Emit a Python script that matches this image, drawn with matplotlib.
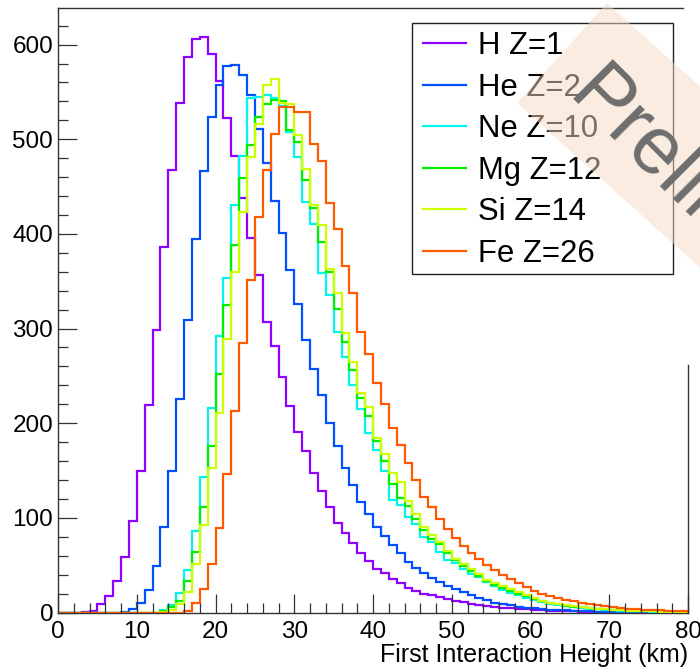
import numpy as np
import matplotlib
matplotlib.use('Agg')
import matplotlib.pyplot as plt
from matplotlib.patches import Polygon, Rectangle

plt.rcParams['font.family'] = 'Liberation Sans'

# bin edges in km (1 km bins from 0 to 80)
bin_edges = np.arange(0, 81, 1)

h_counts = [0, 0, 0, 1, 1.5, 9, 17.5, 33, 59, 97,
            150, 219, 299, 386, 468, 538, 587, 606, 608, 590,
            562, 523, 482, 438, 396, 357, 307, 282, 249, 218,
            191, 171, 147, 128, 112, 94.5, 83.5, 73, 63, 54,
            46, 41.5, 35.5, 31, 25.5, 22.5, 20, 18, 16, 14,
            12.5, 11, 9.5, 8.3, 7, 6.2, 5.2, 4.4, 3.7, 3.2,
            2.6, 2.2, 1.9, 1.6, 1.3, 1.1, 0.9, 0.8, 0.6, 0.5,
            0.4, 0.3, 0.3, 0.2, 0.2, 0.1, 0.1, 0.1, 0.1, 0]
he_counts = [0, 0, 0, 0, 0, 0, 0, 0, 1, 3.5,
             10, 24, 49, 90, 149, 226, 309, 395, 466, 524,
             557, 577, 579, 568, 547, 511, 475, 435, 401, 362,
             326, 288, 257, 230, 200, 176, 153, 135, 117, 104.5,
             90.5, 81, 71, 62.5, 53.7, 46.5, 41.5, 36.5, 32, 28,
             25, 21.5, 18.6, 15.5, 13, 10.5, 9, 7.5, 6.2, 5.2,
             4.4, 3.7, 3.1, 2.6, 2.2, 1.8, 1.5, 1.2, 1, 0.8,
             0.7, 0.6, 0.5, 0.4, 0.3, 0.3, 0.2, 0.2, 0.1, 0.1]
ne_counts = [0, 0, 0, 0, 0, 0, 0, 0, 0, 0,
             0, 0, 0, 2.8, 7.7, 21, 45, 86, 143.5, 216,
             292, 353, 431, 482, 544, 545, 547, 544, 535, 508,
             481, 434, 410, 359, 335, 296.5, 270, 240, 215, 190,
             172, 149, 119, 114, 101, 93, 80, 74, 64, 56,
             52, 46, 41, 37, 32, 28, 24, 21, 18, 15,
             13, 11, 9.2, 7.8, 6.6, 5.6, 4.7, 4, 3.3, 2.8,
             2.3, 1.9, 1.6, 1.3, 1.1, 0.9, 0.7, 0.6, 0.5, 0.4]
mg_counts = [0, 0, 0, 0, 0, 0, 0, 0, 0, 0,
             0, 0, 0, 1.8, 5.3, 12, 33, 64, 111, 176,
             252, 325, 388, 459, 494, 524, 537, 541, 540, 510,
             497, 457, 427, 391, 360, 321, 286, 256, 227, 208,
             181, 160, 136, 121, 113, 99, 87.5, 78, 72, 63,
             56, 49, 43.5, 39, 33.5, 29.5, 26, 22.5, 20, 17,
             14.5, 12, 10, 8.5, 7.3, 6.3, 5.3, 4.5, 3.8, 3.2,
             2.7, 2.2, 1.9, 1.6, 1.3, 1.1, 0.9, 0.7, 0.6, 0.5]
si_counts = [0, 0, 0, 0, 0, 0, 0, 0, 0, 0,
             0, 0, 0, 1, 2.8, 8.5, 22, 51.5, 92.5, 153,
             211, 289, 360, 423, 481, 516.5, 557, 564, 538, 537.5,
             505, 469, 431, 409, 363, 338, 295, 265, 232, 217,
             184, 168, 147, 138, 117.5, 104.5, 90, 82, 74, 65,
             57, 51, 45.5, 41, 34.5, 31, 28, 24.5, 22, 18,
             15, 12.5, 10.4, 9, 7.9, 6.9, 5.7, 4.8, 4.1, 3.3,
             2.7, 2.3, 2, 1.7, 1.4, 1.1, 0.9, 0.7, 0.6, 0.5]
fe_counts = [0, 0, 0, 0, 0, 0, 0, 0, 0, 0,
             0, 0, 0, 0, 0, 0, 2, 10, 25, 51,
             89, 146, 213, 285, 351, 417.5, 468, 506, 534, 534,
             528.5, 528.5, 495, 477, 433, 405, 366, 338, 296, 273.5,
             243, 220.5, 194.5, 177, 158, 140, 122.5, 111, 98.5, 88,
             79, 70.5, 62.5, 56.5, 50, 45, 39.5, 35, 31, 27,
             23, 20, 17, 15, 13.5, 12, 10.5, 9, 7.5, 6.5,
             5.5, 4.8, 4, 3.5, 3, 2.7, 2.3, 2, 1.7, 1.5]

labels = ['H Z=1', 'He Z=2', 'Ne Z=10', 'Mg Z=12', 'Si Z=14', 'Fe Z=26']
colors = ['#8f00ff', '#0050ff', '#00f5ec', '#00ee00', '#ccff00', '#ff5a00']
series = [h_counts, he_counts, ne_counts, mg_counts, si_counts, fe_counts]

fig = plt.figure(figsize=(7, 6.68), dpi=100)
ax = fig.add_axes([58 / 700, 55.5 / 668, 630 / 700, 604.2 / 668])

for vals, lab, col in zip(series, labels, colors):
    ax.stairs(vals, bin_edges, color=col, lw=1.6, label=lab)

ax.set_xlim(0, 80)
ax.set_ylim(0, 638.4)
ax.set_xticks(np.arange(0, 81, 10))
ax.set_xticks(np.arange(0, 81, 2), minor=True)
ax.set_yticks(np.arange(0, 601, 100))
ax.set_yticks(np.arange(0, 621, 20), minor=True)

for s in ax.spines.values():
    s.set_color('#333333')
    s.set_linewidth(1.0)
    s.set_zorder(0.5)
ax.spines['right'].set_bounds(0, 262)
ax.spines['top'].set_bounds(0, 79.4)

ax.tick_params(which='both', direction='in', top=False, right=False,
               color='#333333', width=0.9, labelsize=17.5)
ax.tick_params(which='major', length=14)
ax.tick_params(which='minor', length=7)
ax.tick_params(axis='y', pad=3.5)
ax.tick_params(axis='x', pad=6)

ax.set_xlabel('First Interaction Height (km)', fontsize=18, loc='right')
ax.xaxis.set_label_coords(1.0, -0.05)

ax.legend(loc='upper left', bbox_to_anchor=(423 / 700, 1 - 31 / 668),
          bbox_transform=fig.transFigure, frameon=False, fontsize=22.4,
          handlelength=1.38, handletextpad=0.4, labelspacing=0.37,
          borderpad=0, borderaxespad=0)

# legend frame
fig.add_artist(Rectangle((412 / 700, 1 - 274 / 668), 261 / 700, 251 / 668,
                         transform=fig.transFigure, fill=False,
                         edgecolor='#222222', lw=1.0, zorder=1))

# watermark band
band = [(517, 103), (607, 3), (807, 183), (717, 283)]
band = [(x / 700, 1 - y / 668) for x, y in band]
fig.add_artist(Polygon(band, closed=True, transform=fig.transFigure,
                       facecolor='#f7dac4', alpha=0.5, edgecolor='none', zorder=2))
fig.text(565 / 700, 1 - 98 / 668, 'Preliminary', rotation=-45,
         rotation_mode='anchor', ha='left', va='baseline', fontsize=58,
         color='#6e6e6e', zorder=3)

fig.savefig('out.png', dpi=100)
